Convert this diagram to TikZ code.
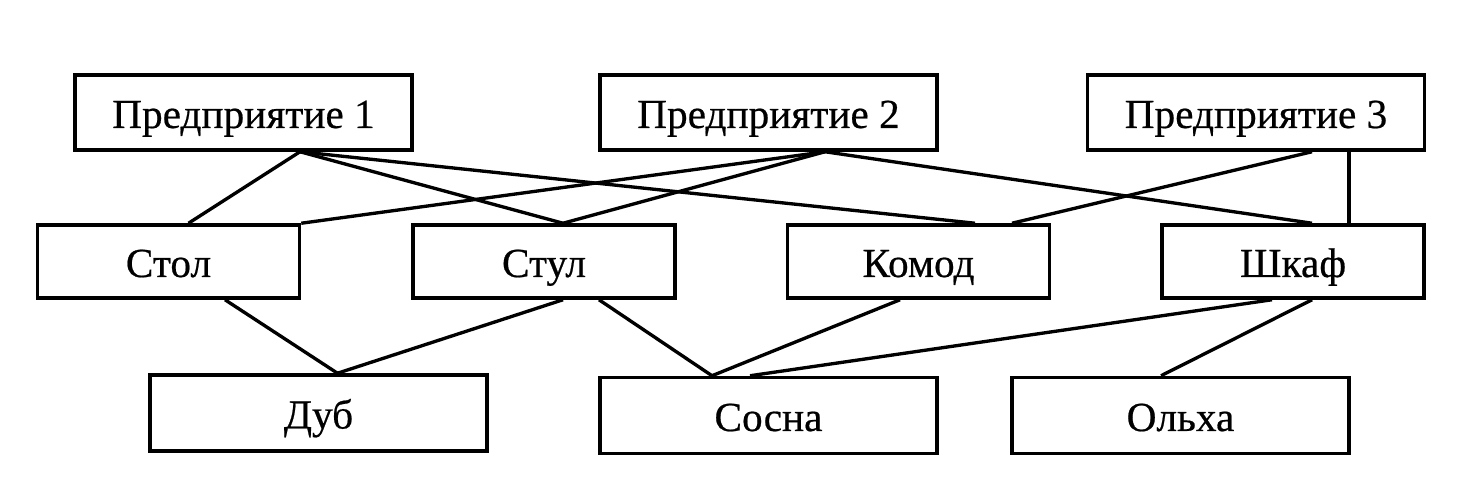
\documentclass[tikz,border=0pt]{standalone}
\usepackage{fontspec}
\setmainfont[FakeBold=0.5]{Liberation Serif}
\newcommand{\widthwide}{6.74cm}
\newcommand{\widthnarrow}{5.24cm}
\tikzset{
    common/.style={draw, rectangle, line width=2pt, inner sep=0pt,
        font=\fontsize{23.5}{28}\selectfont, text height=0.62cm, text depth=0pt},
    firm/.style={common, minimum width=\widthwide, minimum height=15mm},
    item/.style={common, minimum width=\widthnarrow, minimum height=14.6mm},
    wood/.style={common, minimum width=\widthwide, minimum height=15.2mm},
    link/.style={line width=1.9pt}
}
\begin{document}
\begin{tikzpicture}
    \useasboundingbox (0,0) rectangle (29.22,9.82);

    \node[firm] (Pr1) at (4.87,7.57) {Предприятие 1};
    \node[firm] (Pr2) at (15.37,7.57) {Предприятие 2};
    \node[firm] (Pr3) at (25.12,7.57) {Предприятие 3};

    \node[item] (Stol) at (3.37,4.59) {Стол};
    \node[item] (Stul) at (10.88,4.59) {Стул};
    \node[item] (Komod) at (18.37,4.59) {Комод};
    \node[item] (Shkaf) at (25.86,4.59) {Шкаф};

    \node[wood] (Dub) at (6.37,1.56) {Дуб};
    \node[wood] (Sosna) at (15.37,1.51) {Сосна};
    \node[wood] (Olkha) at (23.61,1.51) {Ольха};

    % enterprises -> furniture
    \draw[link] ([xshift=1.13cm]Pr1.south) -- ([xshift=0.4cm]Stol.north);
    \draw[link] ([xshift=1.13cm]Pr1.south) -- ([xshift=0.38cm]Stul.north);
    \draw[link] ([xshift=1.13cm]Pr1.south) -- ([xshift=1.13cm]Komod.north);
    \draw[link] ([xshift=1.13cm]Pr2.south) -- (Stol.north east);
    \draw[link] ([xshift=1.13cm]Pr2.south) -- ([xshift=0.38cm]Stul.north);
    \draw[link] ([xshift=1.13cm]Pr2.south) -- ([xshift=0.38cm]Shkaf.north);
    \draw[link] ([xshift=1.12cm]Pr3.south) -- ([xshift=1.87cm]Komod.north);
    \draw[link] ([xshift=1.86cm]Pr3.south) -- ([xshift=1.12cm]Shkaf.north);

    % furniture -> wood
    \draw[link] ([xshift=1.13cm]Stol.south) -- ([xshift=0.38cm]Dub.north);
    \draw[link] ([xshift=0.38cm]Stul.south) -- ([xshift=0.38cm]Dub.north);
    \draw[link] ([xshift=1.1cm]Stul.south) -- ([xshift=-1.13cm]Sosna.north);
    \draw[link] ([xshift=-0.37cm]Komod.south) -- ([xshift=-1.13cm]Sosna.north);
    \draw[link] ([xshift=-0.42cm]Shkaf.south) -- ([xshift=-0.37cm]Sosna.north);
    \draw[link] ([xshift=0.38cm]Shkaf.south) -- ([xshift=-0.39cm]Olkha.north);
\end{tikzpicture}
\end{document}
